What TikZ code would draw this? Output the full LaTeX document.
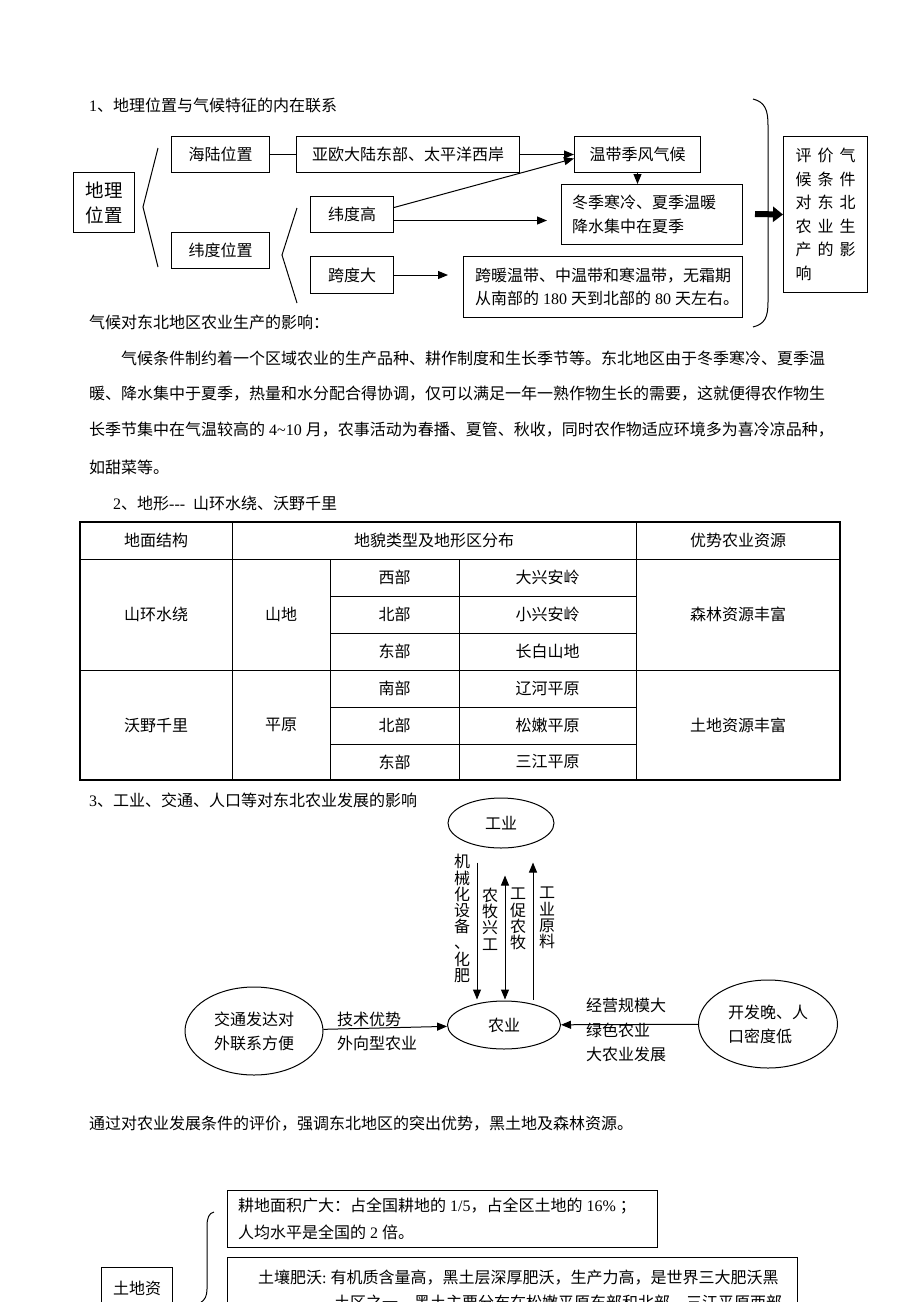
\documentclass[tikz,border=0pt]{standalone}
\usepackage{fontspec}
\setmainfont{Noto Sans CJK SC}
\newfontfamily\latf{Liberation Serif}
\newcommand{\dg}[1]{{\latf #1}}
\usetikzlibrary{arrows.meta,shapes.geometric,calc}
\begin{document}
\begin{tikzpicture}[x=1pt,y=-1pt,
  every node/.style={inner sep=0pt, font=\fontsize{16}{24}\selectfont},
  box/.style={draw, line width=1pt, anchor=north west},
  ell/.style={draw, ellipse, line width=1pt, inner sep=0pt},
  ln/.style={line width=1pt},
  arr/.style={line width=1pt, -{Triangle[length=10pt,width=8pt]}},
  arrb/.style={line width=1pt, {Triangle[length=10pt,width=8pt]}-{Triangle[length=10pt,width=8pt]}},
  txt/.style={anchor=west},
  vl/.style={align=center, font=\fontsize{16}{16.2}\selectfont}]
\fill[white] (0,0) rectangle (920,1302);
\path[use as bounding box] (0,0) rectangle (920,1302);
\clip (0,0) rectangle (920,1302);

% ---------- section 1 ----------
\node[txt] (t1) at (89,105) {\dg{1}、地理位置与气候特征的内在联系};
\node[box, minimum width=61pt, minimum height=60pt, align=center, font=\fontsize{18.5}{25}\selectfont] (dl) at (73,172) {地理\\位置};
\node[box, minimum width=98pt, minimum height=36pt] (hl) at (171,136) {海陆位置};
\node[box, minimum width=98pt, minimum height=36pt] (wdw) at (171,232) {纬度位置};
\node[box, minimum width=223pt, minimum height=36pt] (yo) at (296,136) {亚欧大陆东部、太平洋西岸};
\node[box, minimum width=126pt, minimum height=36pt] (wd) at (574,136) {温带季风气候};
\node[box, minimum width=83pt, minimum height=36pt] (wdg) at (310,196) {纬度高};
\node[box, minimum width=83pt, minimum height=37pt] (kdd) at (310,256) {跨度大};
\node[box, minimum width=181pt, minimum height=60pt] (dj) at (561,184) {};
\node[anchor=west, align=left] (djt) at ([xshift=11pt]dj.west) {冬季寒冷、夏季温暖\\降水集中在夏季};
\node[box, minimum width=279pt, minimum height=61pt] (kn) at (463,256) {};
\node[anchor=west, align=left, font=\fontsize{16}{23}\selectfont] (knt) at ([xshift=12pt]kn.west) {跨暖温带、中温带和寒温带，无霜期\\从南部的\dg{~180~}天到北部的\dg{~80~}天左右。};
\node[box, minimum width=84pt, minimum height=156pt, align=left, font=\fontsize{16}{23.5}\selectfont] (pj) at (783,136)
 {评\hspace{6pt}价\hspace{6pt}气\\候\hspace{6pt}条\hspace{6pt}件\\对\hspace{6pt}东\hspace{6pt}北\\农\hspace{6pt}业\hspace{6pt}生\\产\hspace{6pt}的\hspace{6pt}影\\响};

\draw[ln] (158,148) -- (143,207) -- (158,267);
\draw[ln] (297,208) -- (282,255) -- (297,303);
\draw[ln] (hl.east) -- (yo.west);
\draw[arr] (yo.east) -- (wd.west);
\coordinate (e1) at ([yshift=7pt]wdg.east);
\coordinate (e2) at ([yshift=-6pt]wdg.east);
\draw[arr] (e1) -- ([yshift=-4pt]wd.west);
\draw[arr] (e2) -- ($(dj.west |- e2)+(-14,0)$);
\draw[arr] (wd.south) -- (wd.south |- dj.north);
\draw[arr] (kdd.east) -- ($(kn.west |- kdd.east)+(-15,0)$);
\draw[ln] (753,99) .. controls (765,102) and (768,110) .. (768,125) -- (768,302) .. controls (768,317) and (765,324) .. (753,327);
\coordinate (ta) at (755,214);
\draw[line width=6pt, -{Triangle[length=10pt,width=15pt]}] (ta) -- (pj.west);

\node[txt] (t1b) at (89,322) {气候对东北地区农业生产的影响：};

% ---------- paragraph ----------
\node[txt] (p1) at (121,358) {气候条件制约着一个区域农业的生产品种、耕作制度和生长季节等。东北地区由于冬季寒冷、夏季温};
\node[txt] (p2) at (89,394) {暖、降水集中于夏季，热量和水分配合得协调，仅可以满足一年一熟作物生长的需要，这就便得农作物生};
\node[txt] (p3) at (89,430) {长季节集中在气温较高的\dg{~4\textasciitilde10~}月，农事活动为春播、夏管、秋收，同时农作物适应环境多为喜冷凉品种，};
\node[txt] (p4) at (89,467) {如甜菜等。};
\node[txt] (t2) at (113,503) {\dg{2}、地形\dg{-{}-{}-~~}山环水绕、沃野千里};

% ---------- table ----------
\draw[line width=1.2pt] (80,522) rectangle (840,780);
\draw[ln] (80,559) -- (840,559);
\draw[ln] (80,670) -- (840,670);
\foreach \yy in {596,633,707,744} {\draw[ln] (330,\yy) -- (636,\yy);}
\draw[ln] (232,522) -- (232,780);
\draw[ln] (636,522) -- (636,780);
\draw[ln] (330,559) -- (330,780);
\draw[ln] (459,559) -- (459,780);
\node (h1) at (156,540.5) {地面结构};
\node (h2) at (434,540.5) {地貌类型及地形区分布};
\node (h3) at (738,540.5) {优势农业资源};
\node (r1) at (156,614.5) {山环水绕};
\node (r2) at (281,614.5) {山地};
\node (r3) at (394.5,577.5) {西部};
\node (r4) at (394.5,614.5) {北部};
\node (r5) at (394.5,651.5) {东部};
\node (r6) at (547.5,577.5) {大兴安岭};
\node (r7) at (547.5,614.5) {小兴安岭};
\node (r8) at (547.5,651.5) {长白山地};
\node (r9) at (738,614.5) {森林资源丰富};
\node (s1) at (156,725) {沃野千里};
\node (s2) at (281,725) {平原};
\node (s3) at (394.5,688.5) {南部};
\node (s4) at (394.5,725.5) {北部};
\node (s5) at (394.5,762) {东部};
\node (s6) at (547.5,688.5) {辽河平原};
\node (s7) at (547.5,725.5) {松嫩平原};
\node (s8) at (547.5,762) {三江平原};
\node (s9) at (738,725) {土地资源丰富};

% ---------- section 3 ----------
\node[txt] (t3) at (89,800) {\dg{3}、工业、交通、人口等对东北农业发展的影响};
\node[ell, minimum width=106pt, minimum height=50pt] (gy) at (501,823) {工业};
\node[ell, minimum width=113pt, minimum height=48pt] (ny) at (504,1025) {农业};
\node[ell, minimum width=138pt, minimum height=88pt, align=center] (jt) at (254,1031) {交通发达对\\外联系方便};
\node[ell, minimum width=139pt, minimum height=88pt, align=left] (kf) at (768,1024) {开发晚、人\\口密度低};

\draw[arr] ($(gy.south)+(-24,14)$) -- ($(ny.north)+(-27,-1)$);
\draw[arrb] ($(gy.south)+(4,27)$) -- ($(ny.north)+(1,-1)$);
\draw[arr] ($(ny.north)+(29,-1)$) -- ($(gy.south)+(32,14)$);
\node[vl] (l1) at (462,918.5) {机\\械\\化\\设\\备\\、\\化\\肥};
\node[vl] (l2) at (490,919) {农\\牧\\兴\\工};
\node[vl] (l3) at (518,919) {工\\促\\农\\牧};
\node[vl] (l4) at (547,918) {工\\业\\原\\料};

\draw[arr] (jt) -- (ny);
\draw[arr] (kf) -- (ny);
\node[txt] (l5) at (337,1019) {技术优势};
\node[txt] (l6) at (337,1043) {外向型农业};
\node[txt] (l7) at (586,1005) {经营规模大};
\node[txt] (l8) at (586,1030) {绿色农业};
\node[txt] (l9) at (586,1054) {大农业发展};

\node[txt] (t4) at (89,1124) {通过对农业发展条件的评价，强调东北地区的突出优势，黑土地及森林资源。};

% ---------- bottom ----------
\node[box, minimum width=430pt, minimum height=57pt] (b1) at (227,1190) {};
\node[anchor=west, align=left, font=\fontsize{16}{27}\selectfont] (b1t) at ([xshift=11pt]b1.west) {耕地面积广大：占全国耕地的\dg{~1/5}，占全区土地的\dg{~16\%~}；\\人均水平是全国的\dg{~2~}倍。};
\node[box, minimum width=570pt, minimum height=80pt] (b2) at (227,1257) {};
\node[txt] (b2a) at (258,1278) {土壤肥沃\dg{:~}有机质含量高，黑土层深厚肥沃，生产力高，是世界三大肥沃黑};
\node[txt] (b2b) at (334,1302) {土区之一。黑土主要分布在松嫩平原东部和北部、三江平原西部};
\node[box, minimum width=71pt, minimum height=42pt] (tz) at (101,1267) {土地资};
\draw[ln] (214,1212) .. controls (209,1213) and (207,1218) .. (207,1226) -- (207,1289) .. controls (207,1296) and (205,1300) .. (200,1303);
\end{tikzpicture}
\end{document}
